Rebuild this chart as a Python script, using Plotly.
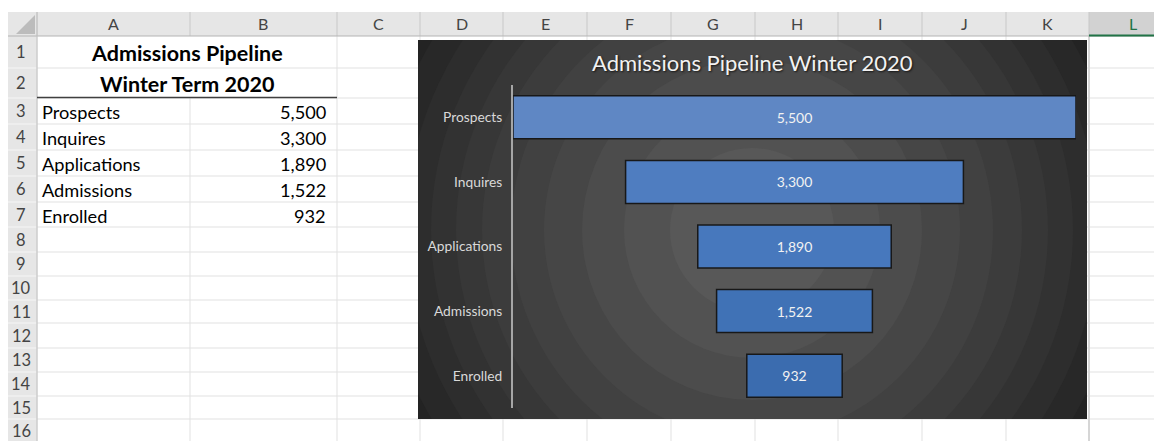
import plotly.graph_objects as go

W, H = 1162, 441
OFF = 8                     # page body margin of the html output
FW, FH = W, H               # figure extends to (and a bit past) the window edge

# ---------------- data ----------------
sheet_title_1 = "Admissions Pipeline"
sheet_title_2 = "Winter Term 2020"
chart_title = "Admissions Pipeline Winter 2020"
categories = ["Prospects", "Inquires", "Applications", "Admissions", "Enrolled"]
values = [5500, 3300, 1890, 1522, 932]
column_letters = ["A", "B", "C", "D", "E", "F", "G", "H", "I", "J", "K", "L"]
row_numbers = list(range(1, 17))

# ---------------- styling / layout geometry (window pixels) ----------------
FONT = "Lato"
bar_colors = ["#5f87c4", "#4f7dc0", "#4778bd", "#4072b6", "#3b6caf"]
col_edges = [37, 190, 337, 420, 503, 587, 671, 755, 838, 922, 1006, 1089, 1235]
row_edges = [36, 68, 98, 124, 150, 176, 202, 227, 252, 276, 300, 323, 348, 372, 396, 419, 443]
HEAD_TOP = 12
HEAD_LEFT = 5
CHART = (418, 40, 1087, 419)      # x0, y0, x1, y1
PLOT = (513, 85, 1076, 408)
GC = (752, 230)                   # gradient centre
ring_radii = [400, 372, 346, 321, 296, 270, 241, 208, 170, 128, 82]
ring_grey = [35, 40, 45, 50, 55, 60, 65, 70, 76, 82, 88]


def px(x):
    return (x - OFF) / FW


def py(y):
    return 1 - (y - OFF) / FH


shapes = []
ann = []


def rect(x0, y0, x1, y1, fill):
    shapes.append(dict(type="rect", xref="paper", yref="paper", layer="below",
                       x0=px(x0), x1=px(x1), y0=py(y1), y1=py(y0),
                       fillcolor=fill, line=dict(width=0)))


def line(x0, y0, x1, y1, color, width=1):
    shapes.append(dict(type="line", xref="paper", yref="paper", layer="below",
                       x0=px(x0), x1=px(x1), y0=py(y0), y1=py(y1),
                       line=dict(color=color, width=width)))


def text(x, y, s, size, color="#000000", xanchor="center", bold=False):
    ann.append(dict(xref="paper", yref="paper", x=px(x), y=py(y), text=s,
                    showarrow=False, xanchor=xanchor, yanchor="middle",
                    font=dict(family=FONT, size=size, color=color,
                              weight="bold" if bold else "normal")))


# ---------------- spreadsheet ----------------
rect(HEAD_LEFT, HEAD_TOP, W + 20, row_edges[0], "#e6e6e6")
rect(HEAD_LEFT, row_edges[0], col_edges[0], H + 20, "#e6e6e6")
rect(col_edges[11], HEAD_TOP, W + 20, row_edges[0], "#d2d2d2")

# cell gridlines
for y in row_edges[1:]:
    line(col_edges[0], y, W + 20, y, "#e1e1e1")
    line(HEAD_LEFT, y, col_edges[0], y, "#f4f4f4", 1.2)
for i, x in enumerate(col_edges[:-1]):
    y_start = row_edges[0]
    if i == 1:
        y_start = row_edges[2]   # merged A1:B1 and A2:B2
    line(x, y_start, x, H + 20, "#e1e1e1")
    line(x, HEAD_TOP, x, row_edges[0], "#c8c8c8")
line(col_edges[11], row_edges[0], col_edges[11], H + 20, "#d6d6d6", 2)

# header borders
line(HEAD_LEFT, row_edges[0], W + 20, row_edges[0], "#b4b4b4")
line(col_edges[0], HEAD_TOP, col_edges[0], H + 20, "#c2c2c2")
line(col_edges[11], row_edges[0] - 0.5, W + 20, row_edges[0] - 0.5, "#217346", 2)

# corner triangle
shapes.append(dict(type="path", xref="paper", yref="paper", layer="below",
                   path=f"M {px(35)} {py(15)} L {px(35)} {py(34)} L {px(16)} {py(34)} Z",
                   fillcolor="#bcbcbc", line=dict(width=0)))

# bottom border of title rows
line(col_edges[0], row_edges[2] - 0.5, col_edges[2], row_edges[2] - 0.5, "#404040", 1.5)

# column letters
for i, c in enumerate(column_letters):
    xc = (col_edges[i] + col_edges[i + 1]) / 2 if i < 11 else (col_edges[11] + W + 20) / 2 - 3
    text(xc, 24, c, 16, "#217346" if c == "L" else "#444444")

# row numbers
for i, r in enumerate(row_numbers):
    yc = (row_edges[i] + row_edges[i + 1]) / 2
    text(21, yc, str(r), 16.5, "#444444")

# sheet titles
text((col_edges[0] + col_edges[2]) / 2, (row_edges[0] + row_edges[1]) / 2 + 1, sheet_title_1, 21.5, bold=True)
text((col_edges[0] + col_edges[2]) / 2, (row_edges[1] + row_edges[2]) / 2 + 1, sheet_title_2, 21.5, bold=True)

# table rows
for i, (c, v) in enumerate(zip(categories, values)):
    yc = (row_edges[2 + i] + row_edges[3 + i]) / 2 + 1
    text(col_edges[0] + 3, yc, c, 18.2, xanchor="left")
    text(col_edges[2] - 9, yc, f"{v:,}", 18.2, xanchor="right")

# ---------------- chart background (radial gradient rings) ----------------
shapes.append(dict(type="rect", xref="x", yref="y", layer="below",
                   x0=CHART[0], x1=CHART[2], y0=CHART[1], y1=CHART[3],
                   fillcolor="#222222", line=dict(width=0)))
for r, g in zip(ring_radii, ring_grey):
    shapes.append(dict(type="circle", xref="x", yref="y", layer="below",
                       x0=GC[0] - r, x1=GC[0] + r, y0=GC[1] - r, y1=GC[1] + r,
                       fillcolor=f"rgb({g},{g},{g})", line=dict(width=0)))

fig = go.Figure()
# invisible trace so the background subplot exists
fig.add_trace(go.Scatter(x=[CHART[0]], y=[CHART[1]], mode="markers",
                         marker=dict(opacity=0), hoverinfo="skip",
                         xaxis="x", yaxis="y"))

fig.add_trace(go.Funnel(
    y=categories, x=values, xaxis="x2", yaxis="y2",
    marker=dict(color=bar_colors, line=dict(color="#181818", width=1.5)),
    texttemplate="%{value:,}", textposition="inside", insidetextanchor="middle",
    textfont=dict(family=FONT, size=14, color="#f2f2f2"),
    connector=dict(visible=False), hoverinfo="skip"))

# chart title
ann.append(dict(xref="paper", yref="paper", x=px((CHART[0] + CHART[2]) / 2), y=py(63),
                text=chart_title, showarrow=False, xanchor="center", yanchor="middle",
                font=dict(family=FONT, size=22, color="#f2f2f2",
                          shadow="1px 1px 2px rgba(0,0,0,0.7)")))

fig.update_layout(
    width=FW, height=FH, margin=dict(l=0, r=0, t=0, b=0),
    paper_bgcolor="white", plot_bgcolor="rgba(0,0,0,0)", showlegend=False,
    funnelgap=0.334,
    xaxis=dict(domain=[px(CHART[0]), px(CHART[2])], range=[CHART[0], CHART[2]],
               visible=False, fixedrange=True),
    yaxis=dict(domain=[py(CHART[3]), py(CHART[1])], range=[CHART[3], CHART[1]],
               visible=False, fixedrange=True),
    xaxis2=dict(domain=[px(PLOT[0]), px(PLOT[2])], range=[-max(values) / 2, max(values) / 2],
                visible=False, anchor="y2", fixedrange=True),
    yaxis2=dict(domain=[py(PLOT[3]), py(PLOT[1])], range=[len(categories) - 0.5, -0.5],
                anchor="x2", type="category", showline=True, linecolor="#a6a6a6",
                linewidth=2, ticks="", showgrid=False, zeroline=False,
                ticklabelstandoff=6, fixedrange=True,
                tickfont=dict(family=FONT, size=13.8, color="#d9d9d9")),
    shapes=shapes, annotations=ann,
)

fig.write_html("out.html")
